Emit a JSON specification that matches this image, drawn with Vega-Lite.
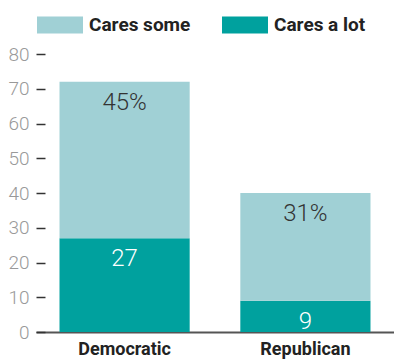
{
  "$schema": "https://vega.github.io/schema/vega-lite/v6.json",
  "width": 358,
  "height": 278,
  "autosize": "none",
  "padding": {"left": 36, "top": 54, "right": 0, "bottom": 29},
  "background": "white",
  "config": {"view": {"stroke": null}},
  "data": {
    "values": [
      {"party": "Democratic", "category": "Cares a lot", "value": 27, "label": "27"},
      {"party": "Democratic", "category": "Cares some", "value": 45, "label": "45%"},
      {"party": "Republican", "category": "Cares a lot", "value": 9, "label": "9"},
      {"party": "Republican", "category": "Cares some", "value": 31, "label": "31%"}
    ]
  },
  "encoding": {
    "x": {
      "field": "party", "type": "nominal", "title": null,
      "scale": {"paddingInner": 0.28, "paddingOuter": 0.13},
      "axis": {
        "labelAngle": 0, "ticks": false, "domainColor": "#555555", "domainWidth": 2,
        "labelFont": "Roboto", "labelFontWeight": "bold",
        "labelFontSize": 18, "labelColor": "#222222", "labelPadding": 8
      }
    },
    "y": {
      "field": "value", "type": "quantitative", "stack": "zero", "title": null,
      "scale": {"domain": [0, 80], "nice": false},
      "axis": {
        "values": [0, 10, 20, 30, 40, 50, 60, 70, 80], "grid": false, "domain": false,
        "offset": -9, "tickSize": 9, "tickColor": "#333333", "tickWidth": 1.5,
        "labelPadding": 7, "labelFont": "Roboto", "labelFontWeight": 300,
        "labelFontSize": 19, "labelColor": "#999999"
      }
    },
    "order": {"field": "category", "sort": "ascending"}
  },
  "layer": [
    {
      "mark": {"type": "bar"},
      "encoding": {
        "color": {
          "field": "category", "type": "nominal",
          "scale": {"domain": ["Cares some", "Cares a lot"], "range": ["#a0d0d5", "#00a19e"]},
          "legend": {
            "title": null, "orient": "none", "direction": "horizontal",
            "legendX": 1, "legendY": -52,
            "symbolType": "M-1,-0.37H1V0.37H-1Z", "symbolSize": 2116,
            "symbolStrokeWidth": 0, "labelOffset": 6, "columnPadding": 31,
            "labelFont": "Roboto", "labelFontWeight": "bold",
            "labelFontSize": 19, "labelColor": "#222222"
          }
        }
      }
    },
    {
      "mark": {"type": "text", "baseline": "top", "dy": 9, "font": "Roboto", "fontWeight": 300, "fontSize": 24},
      "encoding": {
        "text": {"field": "label"},
        "color": {"condition": {"test": "datum.category === 'Cares a lot'", "value": "#ffffff"}, "value": "#333333"}
      }
    }
  ]
}
